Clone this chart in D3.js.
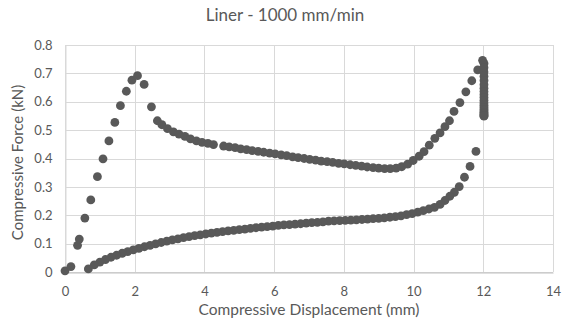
<!DOCTYPE html>
<html>
<head>
<meta charset="utf-8">
<script src="https://cdn.jsdelivr.net/npm/d3@7"></script>
<style>
  html, body { margin: 0; padding: 0; background: #fff; }
  svg { display: block; }
  text { font-family: Lato, "Open Sans", sans-serif; fill: #595959; }
</style>
</head>
<body>
<svg id="chart" width="563" height="328"></svg>
<script>
const chartTitle = "Liner - 1000 mm/min";
const xAxisTitle = "Compressive Displacement (mm)";
const yAxisTitle = "Compressive Force (kN)";
const xTicks = [0, 2, 4, 6, 8, 10, 12, 14];
const yTicks = [0, 0.1, 0.2, 0.3, 0.4, 0.5, 0.6, 0.7, 0.8];

// Loading branch (displacement mm, force kN)
const loadingDisp = [0, 0.17, 0.36, 0.41, 0.57, 0.74, 0.93, 1.09, 1.26, 1.43, 1.59, 1.76, 1.92, 2.08, 2.27, 2.48, 2.65,
  2.78, 2.94, 3.11, 3.27, 3.44, 3.60, 3.77, 3.93, 4.10, 4.26, 4.55, 4.71, 4.88, 5.04, 5.21, 5.37, 5.54, 5.70, 5.87,
  6.03, 6.20, 6.36, 6.53, 6.69, 6.86, 7.02, 7.19, 7.35, 7.52, 7.68, 7.85, 8.01, 8.18, 8.34, 8.51, 8.67, 8.84, 9.00,
  9.17, 9.33, 9.50, 9.66, 9.83, 9.99, 10.16, 10.30, 10.45, 10.61, 10.76, 10.90, 11.03, 11.16, 11.33, 11.50, 11.67,
  11.84, 11.98];
const loadingForce = [0.004, 0.019, 0.094, 0.116, 0.19, 0.254, 0.336, 0.399, 0.462, 0.527, 0.586, 0.637, 0.676, 0.692, 0.661, 0.582, 0.533,
  0.519, 0.505, 0.494, 0.486, 0.478, 0.469, 0.462, 0.457, 0.453, 0.449, 0.444, 0.441, 0.438, 0.434, 0.431, 0.428, 0.425, 0.422, 0.419,
  0.416, 0.413, 0.410, 0.406, 0.403, 0.400, 0.397, 0.394, 0.391, 0.389, 0.386, 0.383, 0.381, 0.378, 0.376, 0.373, 0.370, 0.368, 0.366,
  0.364, 0.364, 0.366, 0.371, 0.380, 0.393, 0.408, 0.424, 0.447, 0.471, 0.490, 0.512, 0.533, 0.566, 0.597, 0.635, 0.674,
  0.712, 0.746];

// Hold at maximum displacement (force relaxation)
const holdDisp = 12.02;
const holdForce = [0.735, 0.72, 0.705, 0.69, 0.675, 0.66, 0.648, 0.636, 0.625, 0.615, 0.605, 0.596, 0.588, 0.58,
  0.573, 0.567, 0.562, 0.558, 0.554, 0.551, 0.549];

// Unloading branch
const unloadingDisp = [11.79, 11.62, 11.46, 11.31, 11.17, 11.04, 10.90, 10.76, 10.60, 10.44, 10.28, 10.12, 9.96, 9.80,
  9.64, 9.48, 9.32, 9.16, 9.00, 8.84, 8.68, 8.52, 8.36, 8.20, 8.04, 7.88, 7.72, 7.56, 7.40, 7.24, 7.08, 6.92, 6.76,
  6.60, 6.44, 6.28, 6.12, 5.96, 5.80, 5.64, 5.48, 5.32, 5.16, 5.00, 4.84, 4.68, 4.52, 4.36, 4.20, 4.04, 3.88, 3.72,
  3.56, 3.40, 3.24, 3.08, 2.92, 2.76, 2.60, 2.44, 2.28, 2.12, 1.96, 1.80, 1.64, 1.48, 1.32, 1.16, 1.00, 0.84, 0.67];
const unloadingForce = [0.425, 0.372, 0.334, 0.301, 0.281, 0.267, 0.252, 0.238, 0.228, 0.222, 0.216, 0.211, 0.206, 0.202,
  0.198, 0.195, 0.193, 0.191, 0.189, 0.188, 0.186, 0.185, 0.184, 0.183, 0.182, 0.181, 0.180, 0.179, 0.177, 0.175, 0.174, 0.172, 0.170,
  0.169, 0.167, 0.166, 0.164, 0.162, 0.160, 0.158, 0.156, 0.154, 0.151, 0.149, 0.147, 0.145, 0.142, 0.140, 0.137, 0.134, 0.131, 0.128,
  0.125, 0.121, 0.117, 0.113, 0.109, 0.104, 0.099, 0.094, 0.089, 0.083, 0.078, 0.072, 0.066, 0.059, 0.052, 0.044, 0.035, 0.025, 0.011];

const points = [];
loadingDisp.forEach((d, i) => points.push({x: d, y: loadingForce[i]}));
holdForce.forEach(f => points.push({x: holdDisp, y: f}));
unloadingDisp.forEach((d, i) => points.push({x: d, y: unloadingForce[i]}));

const svg = d3.select("#chart");
const margin = {left: 65, right: 10, top: 45, bottom: 56};
const W = 563, H = 328;
const x = d3.scaleLinear().domain([0, 14]).range([margin.left, W - margin.right]);
const y = d3.scaleLinear().domain([0, 0.8]).range([H - margin.bottom, margin.top]);

// gridlines
const grid = svg.append("g");
grid.selectAll("line.h").data(yTicks).join("line")
  .attr("x1", x(0)).attr("x2", x(14))
  .attr("y1", d => Math.round(y(d)) + 0.5).attr("y2", d => Math.round(y(d)) + 0.5)
  .attr("stroke", "#d9d9d9").attr("stroke-width", 1);
grid.selectAll("line.v").data(xTicks).join("line")
  .attr("y1", y(0)).attr("y2", y(0.8))
  .attr("x1", d => Math.round(x(d)) + 0.5).attr("x2", d => Math.round(x(d)) + 0.5)
  .attr("stroke", "#d9d9d9").attr("stroke-width", 1);

// axes
const xAxis = d3.axisBottom(x).tickValues(xTicks).tickSize(0).tickPadding(14).tickFormat(d3.format("d"));
const gx = svg.append("g").attr("transform", `translate(0,${Math.round(y(0)) + 0.5})`).call(xAxis);
gx.select(".domain").attr("stroke", "#bfbfbf");
gx.selectAll("text").style("font-size", "13px").attr("fill", "#595959");

const yAxis = d3.axisLeft(y).tickValues(yTicks).tickSize(0).tickPadding(13).tickFormat(d => d === 0 ? "0" : d3.format(".1f")(d));
const gy = svg.append("g").attr("transform", `translate(${Math.round(x(0)) + 0.5},0)`).call(yAxis);
gy.select(".domain").attr("stroke", "#d9d9d9");
gy.selectAll("text").style("font-size", "13px").attr("fill", "#595959");

// points
svg.append("g").selectAll("circle").data(points).join("circle")
  .attr("cx", d => x(d.x)).attr("cy", d => y(d.y)).attr("r", 4.4)
  .attr("fill", "#595959");

// titles
svg.append("text").attr("x", 285).attr("y", 21).attr("text-anchor", "middle")
  .style("font-size", "17px").text(chartTitle);
svg.append("text").attr("x", (x(0) + x(14)) / 2).attr("y", 314.5).attr("text-anchor", "middle")
  .style("font-size", "15.5px").text(xAxisTitle);
svg.append("text").attr("transform", `translate(23,162.5) rotate(-90)`).attr("text-anchor", "middle")
  .style("font-size", "15px").text(yAxisTitle);
</script>
</body>
</html>
